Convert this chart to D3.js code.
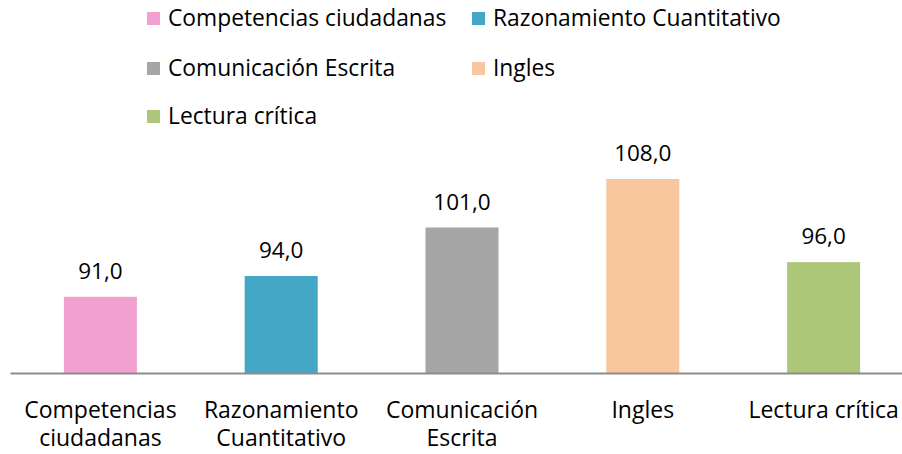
<!DOCTYPE html>
<html>
<head>
<meta charset="utf-8">
<script src="https://cdn.jsdelivr.net/npm/d3@7"></script>
<style>
  body { margin: 0; background: #fff; }
  text { font-family: "Open Sans", sans-serif; fill: #000; }
</style>
</head>
<body>
<script>
// Data
const categories = ["Competencias ciudadanas", "Razonamiento Cuantitativo", "Comunicación Escrita", "Ingles", "Lectura crítica"];
const tickLines = [["Competencias", "ciudadanas"], ["Razonamiento", "Cuantitativo"], ["Comunicación", "Escrita"], ["Ingles"], ["Lectura crítica"]];
const values = [91, 94, 101, 108, 96];
const colors = ["#f2a0cf", "#43a7c5", "#a6a6a6", "#f9c79d", "#adc779"];

const width = 902, height = 454;

const svg = d3.select("body").append("svg")
  .attr("width", width)
  .attr("height", height);

// x band across the plot (the axis runs a bit past the right edge)
const x = d3.scaleBand()
  .domain(categories)
  .range([10, 914])
  .paddingInner(0.596)
  .paddingOuter(0.298);

// y starts at 80, like the original
const y = d3.scaleLinear()
  .domain([80, 108])
  .range([373, 179]);

// bars
svg.selectAll("rect.bar")
  .data(categories)
  .enter()
  .append("rect")
  .attr("class", "bar")
  .attr("x", d => x(d))
  .attr("y", (d, i) => y(values[i]))
  .attr("width", x.bandwidth())
  .attr("height", (d, i) => y(80) - y(values[i]))
  .attr("fill", (d, i) => colors[i]);

// axis line
const xAxis = svg.append("g")
  .attr("transform", "translate(0," + y(80) + ")")
  .call(d3.axisBottom(x).tickSize(0).tickFormat(""));
xAxis.select(".domain").attr("stroke", "#8c8c8c").attr("stroke-width", 2);

// category labels, two lines where needed
const ticks = svg.selectAll("text.cat")
  .data(categories)
  .enter()
  .append("text")
  .attr("class", "cat")
  .attr("text-anchor", "middle")
  .style("font-size", "23px");
ticks.each(function (d, i) {
  tickLines[i].forEach((line, k) => {
    d3.select(this).append("tspan")
      .attr("x", x(d) + x.bandwidth() / 2)
      .attr("y", 418 + k * 28)
      .text(line);
  });
});

// value labels
svg.selectAll("text.val")
  .data(categories)
  .enter()
  .append("text")
  .attr("class", "val")
  .attr("text-anchor", "middle")
  .style("font-size", "22.5px")
  .attr("x", d => x(d) + x.bandwidth() / 2)
  .attr("y", (d, i) => y(values[i]) - 18)
  .text((d, i) => d3.format(".1f")(values[i]).replace(".", ","));

// legend, two columns
const legend = svg.selectAll("g.leg")
  .data(categories)
  .enter()
  .append("g")
  .attr("class", "leg")
  .attr("transform", (d, i) => "translate(" + (i % 2 ? 472 : 147) + "," + [18, 18, 68, 68, 116][i] + ")");
legend.append("rect")
  .attr("x", 0)
  .attr("y", -6)
  .attr("width", 13)
  .attr("height", 13)
  .attr("fill", (d, i) => colors[i]);
legend.append("text")
  .attr("x", 21)
  .attr("y", 8)
  .style("font-size", "22.8px")
  .text(d => d);
</script>
</body>
</html>
